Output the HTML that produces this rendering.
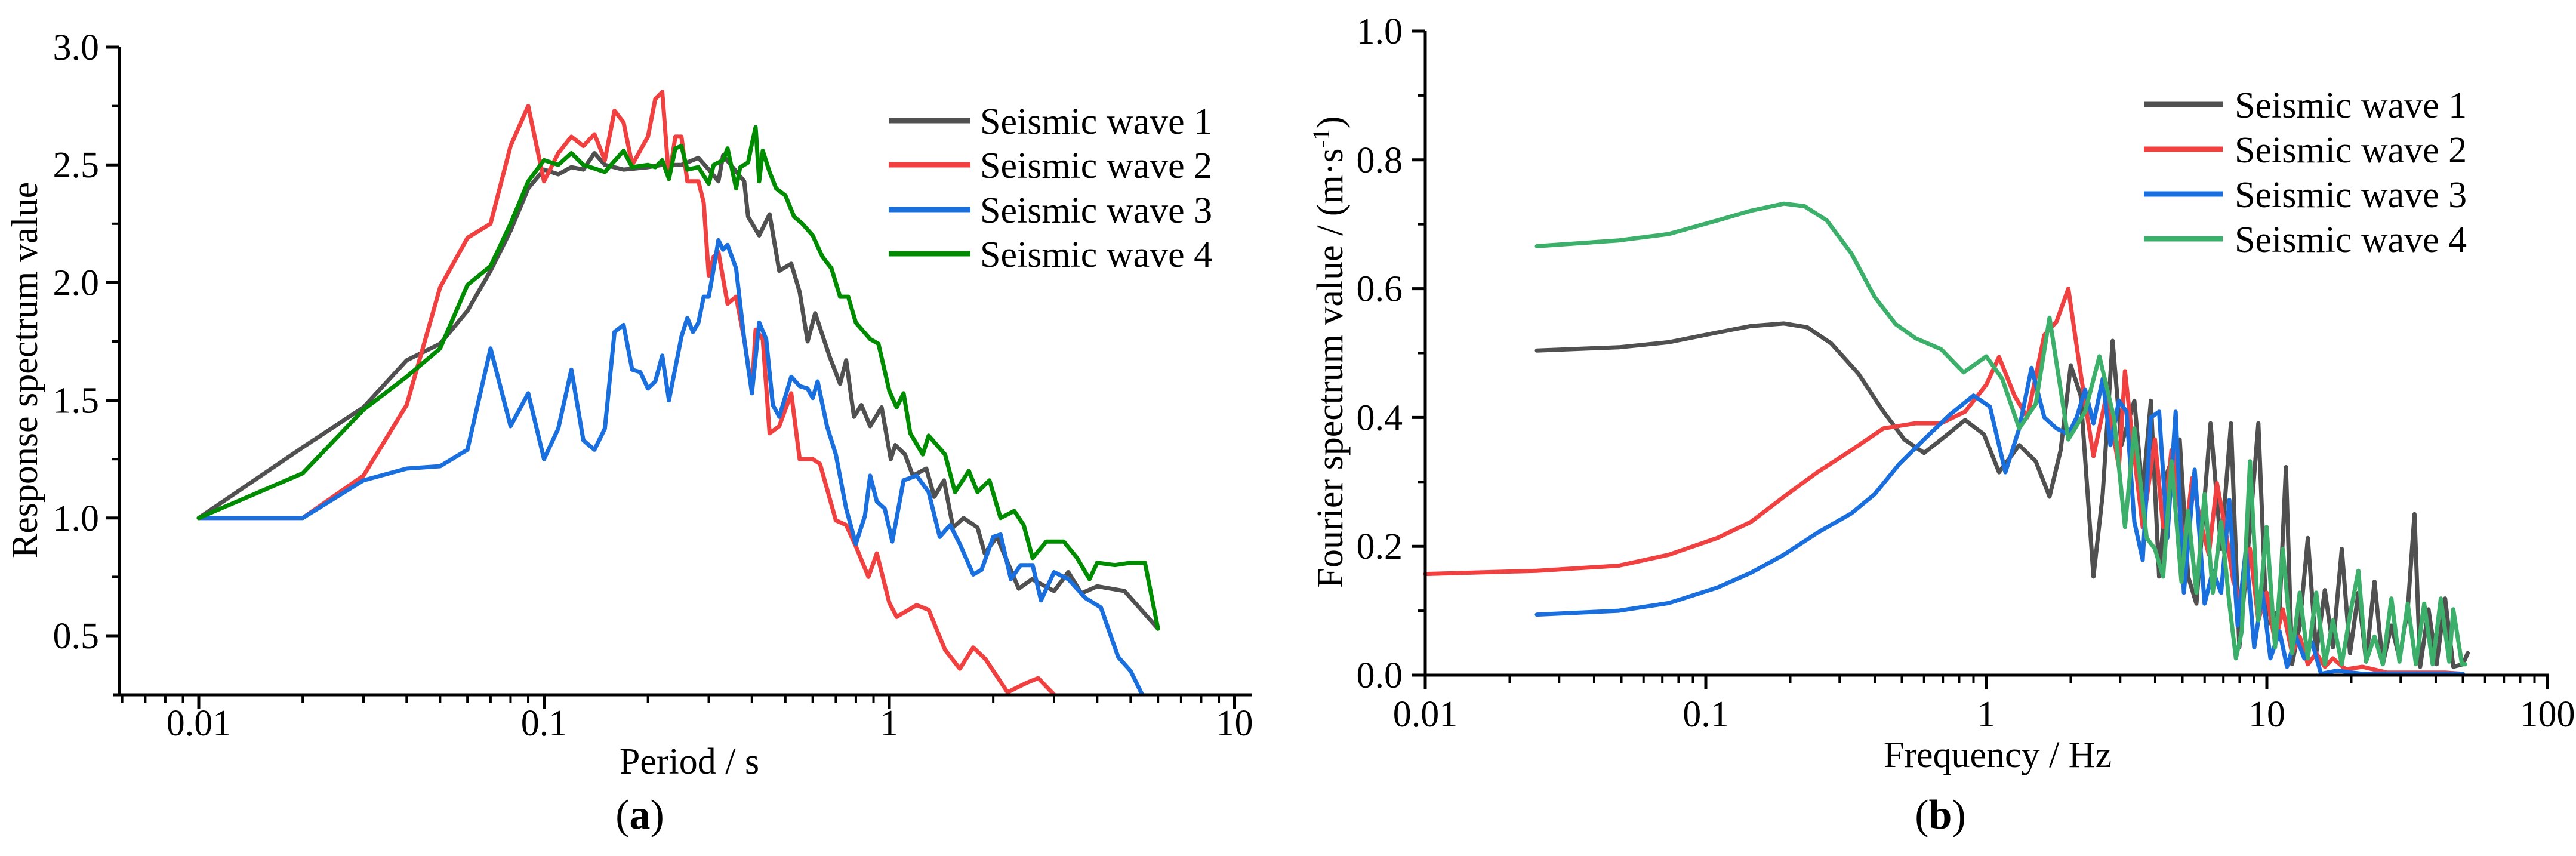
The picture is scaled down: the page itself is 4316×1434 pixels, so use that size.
<!DOCTYPE html>
<html><head><meta charset="utf-8">
<style>
html,body{margin:0;padding:0;background:#fff;}
svg{display:block;}
svg, svg text, svg tspan{font-family:"Liberation Serif",serif !important;fill:#000;}
</style></head>
<body>
<svg id="fig" width="4316" height="1434" viewBox="0 0 4316 1434" xmlns="http://www.w3.org/2000/svg" font-family="Liberation Serif, serif">
<g id="chartA"></g>
<g id="chartB"></g>
</svg>
<script>
// ---------- Chart (a) data: period (s), response spectrum value ----------
const aSeriesNames = ["Seismic wave 1","Seismic wave 2","Seismic wave 3","Seismic wave 4"];
const aColors = ["#505050","#f04040","#1a6fdf","#008c00"];
const aYTicks = [0.5,1.0,1.5,2.0,2.5,3.0];
const aYTickLabels = ["0.5","1.0","1.5","2.0","2.5","3.0"];
const aXTicks = [0.01,0.1,1,10];
const aXTickLabels = ["0.01","0.1","1","10"];
const aW1T = [0.01,0.02,0.03,0.04,0.05,0.06,0.07,0.08,0.09,0.1,0.11,0.12,0.13,0.14,0.15,0.17,0.2,0.22,0.25,0.28,0.3,0.32,0.33,0.38,0.39,0.42,0.45,0.48,0.52,0.55,0.58,0.61,0.67,0.72,0.75,0.79,0.83,0.88,0.95,1.01,1.04,1.11,1.17,1.28,1.35,1.44,1.53,1.64,1.8,1.89,2.05,2.37,2.59,3.0,3.3,3.6,4.0,4.8,6.0];
const aW1V = [1.0,1.30,1.47,1.67,1.74,1.88,2.05,2.22,2.40,2.48,2.46,2.49,2.48,2.55,2.50,2.48,2.49,2.50,2.50,2.53,2.48,2.43,2.54,2.43,2.28,2.20,2.29,2.05,2.08,1.96,1.75,1.87,1.69,1.57,1.67,1.43,1.48,1.39,1.47,1.25,1.31,1.27,1.18,1.21,1.09,1.16,0.96,1.00,0.96,0.85,0.92,0.70,0.74,0.69,0.77,0.68,0.71,0.69,0.53];
const aW2T = [0.01,0.02,0.03,0.04,0.05,0.06,0.07,0.08,0.09,0.1,0.11,0.12,0.13,0.14,0.15,0.16,0.17,0.18,0.2,0.21,0.22,0.23,0.24,0.25,0.26,0.28,0.29,0.30,0.31,0.32,0.34,0.36,0.38,0.40,0.41,0.43,0.45,0.48,0.52,0.55,0.6,0.63,0.7,0.75,0.8,0.87,0.92,1.0,1.05,1.2,1.3,1.45,1.6,1.75,1.9,2.2,2.5,2.7,3.0];
const aW2V = [1.0,1.0,1.18,1.48,1.98,2.19,2.25,2.58,2.75,2.43,2.55,2.62,2.58,2.63,2.52,2.73,2.68,2.50,2.62,2.78,2.81,2.44,2.62,2.62,2.43,2.43,2.34,2.03,2.11,2.13,1.91,1.94,1.76,1.54,1.80,1.76,1.36,1.39,1.53,1.25,1.25,1.23,0.99,0.97,0.88,0.75,0.85,0.64,0.58,0.63,0.61,0.44,0.36,0.45,0.40,0.26,0.30,0.32,0.25];
const aW3T = [0.01,0.02,0.03,0.04,0.05,0.06,0.07,0.08,0.09,0.1,0.11,0.12,0.13,0.14,0.15,0.16,0.17,0.18,0.19,0.2,0.21,0.22,0.23,0.25,0.26,0.27,0.28,0.29,0.30,0.31,0.32,0.33,0.34,0.36,0.38,0.40,0.42,0.44,0.46,0.48,0.52,0.55,0.58,0.6,0.62,0.66,0.7,0.75,0.8,0.85,0.88,0.92,0.97,1.02,1.1,1.2,1.3,1.4,1.5,1.6,1.75,1.85,2.0,2.1,2.25,2.4,2.6,2.75,3.0,3.3,3.7,4.1,4.6,5.0,5.4];
const aW3V = [1.0,1.0,1.16,1.21,1.22,1.29,1.72,1.39,1.53,1.25,1.38,1.63,1.33,1.29,1.38,1.79,1.82,1.63,1.62,1.55,1.58,1.69,1.50,1.77,1.85,1.79,1.83,1.94,1.94,2.06,2.18,2.14,2.16,2.06,1.76,1.53,1.83,1.76,1.48,1.43,1.60,1.56,1.55,1.51,1.58,1.39,1.27,1.04,0.89,1.01,1.18,1.07,1.04,0.90,1.16,1.18,1.11,0.92,0.97,0.89,0.76,0.78,0.92,0.93,0.74,0.80,0.80,0.65,0.77,0.74,0.66,0.62,0.41,0.35,0.25];
const aW4T = [0.01,0.02,0.03,0.04,0.05,0.06,0.07,0.08,0.09,0.1,0.11,0.12,0.13,0.15,0.17,0.18,0.2,0.21,0.22,0.23,0.24,0.25,0.26,0.28,0.30,0.31,0.33,0.34,0.36,0.37,0.39,0.40,0.41,0.42,0.43,0.45,0.47,0.5,0.53,0.56,0.6,0.64,0.68,0.72,0.76,0.8,0.88,0.93,1.0,1.05,1.1,1.15,1.25,1.3,1.45,1.55,1.7,1.8,1.95,2.1,2.3,2.45,2.6,2.85,3.2,3.5,3.8,4.0,4.5,5.0,5.5,6.0];
const aW4V = [1.0,1.19,1.46,1.60,1.72,1.99,2.07,2.25,2.43,2.52,2.50,2.55,2.50,2.47,2.56,2.49,2.50,2.49,2.52,2.44,2.57,2.58,2.48,2.49,2.42,2.50,2.52,2.57,2.40,2.49,2.51,2.59,2.66,2.43,2.56,2.47,2.40,2.37,2.28,2.25,2.20,2.11,2.06,1.94,1.94,1.83,1.76,1.74,1.54,1.47,1.53,1.36,1.27,1.35,1.27,1.11,1.20,1.11,1.16,1.00,1.03,0.97,0.83,0.90,0.90,0.83,0.74,0.81,0.80,0.81,0.81,0.53];

// ---------- Chart (b) data: frequency (Hz), Fourier spectrum value ----------
const bColors = ["#505050","#f04040","#1a6fdf","#3cb06a"];
const bYTicks = [0,0.2,0.4,0.6,0.8,1.0];
const bYTickLabels = ["0.0","0.2","0.4","0.6","0.8","1.0"];
const bXTicks = [0.01,0.1,1,10,100];
const bXTickLabels = ["0.01","0.1","1","10","100"];
const bW1F = [0.025,0.049,0.074,0.11,0.145,0.19,0.23,0.28,0.35,0.43,0.51,0.60,0.71,0.84,0.98,1.11,1.31,1.50,1.68,1.84,2.0,2.17,2.41,2.6,2.82,3.03,3.37,3.61,3.86,4.13,4.42,4.89,5.24,5.61,6.08,6.30,6.87,7.45,7.98,8.71,9.33,9.98,11.1,11.7,12.3,13.1,14.0,15.0,16.1,17.2,18.5,19.8,21.2,22.6,24.2,25.9,27.8,29.7,31.8,33.6,35.2,37.7,40.3,43.2,46.2,50,52];
const bW1V = [0.504,0.509,0.517,0.532,0.542,0.546,0.540,0.515,0.468,0.409,0.366,0.345,0.370,0.396,0.374,0.315,0.357,0.332,0.277,0.349,0.481,0.434,0.153,0.281,0.519,0.357,0.426,0.281,0.426,0.153,0.315,0.366,0.153,0.111,0.306,0.391,0.196,0.391,0.043,0.230,0.391,0.077,0.102,0.323,0.017,0.077,0.213,0.034,0.132,0.043,0.196,0.034,0.128,0.021,0.145,0.017,0.077,0.026,0.102,0.250,0.013,0.102,0.017,0.119,0.013,0.017,0.034];
const bW2F = [0.01,0.025,0.049,0.074,0.11,0.145,0.19,0.25,0.33,0.43,0.56,0.69,0.84,1.0,1.11,1.26,1.40,1.61,1.78,1.96,2.17,2.41,2.68,2.97,3.12,3.37,3.61,3.99,4.27,4.57,4.65,5.06,5.42,5.80,6.21,6.64,7.1,7.6,8.14,8.71,9.33,9.98,10.7,11.4,12.3,13.1,14.0,15.0,16.1,17.2,19.1,21.9,26.8,32.9,43.2,50];
const bW2V = [0.157,0.162,0.170,0.187,0.213,0.238,0.277,0.315,0.349,0.383,0.391,0.391,0.409,0.451,0.494,0.434,0.400,0.528,0.549,0.600,0.468,0.340,0.434,0.323,0.472,0.340,0.230,0.366,0.230,0.349,0.349,0.196,0.306,0.238,0.187,0.298,0.230,0.145,0.111,0.196,0.085,0.128,0.051,0.102,0.034,0.060,0.017,0.034,0.013,0.026,0.009,0.013,0.004,0.004,0.004,0.002];
const bW3F = [0.025,0.049,0.074,0.11,0.145,0.19,0.25,0.33,0.40,0.49,0.60,0.74,0.90,1.03,1.17,1.31,1.45,1.61,1.78,1.96,2.1,2.25,2.41,2.6,2.77,2.97,3.16,3.37,3.61,3.86,4.13,4.42,4.73,5.06,5.53,6.0,6.42,6.87,7.35,7.87,8.42,9.02,9.65,10.3,11.1,11.8,12.7,13.6,14.5,15.6,17.8,21.9,31.8,43.2,50];
const bW3V = [0.094,0.100,0.112,0.136,0.159,0.187,0.221,0.251,0.281,0.328,0.366,0.404,0.434,0.417,0.315,0.383,0.477,0.400,0.383,0.374,0.400,0.443,0.391,0.460,0.357,0.426,0.409,0.238,0.179,0.400,0.409,0.213,0.409,0.128,0.319,0.111,0.162,0.128,0.272,0.077,0.196,0.043,0.128,0.026,0.068,0.013,0.060,0.026,0.051,0.002,0.007,0.002,0.002,0.002,0.002];
const bW4F = [0.025,0.049,0.074,0.11,0.145,0.19,0.225,0.27,0.33,0.40,0.475,0.56,0.69,0.83,1.0,1.14,1.31,1.50,1.68,1.96,2.25,2.53,2.85,3.12,3.37,3.73,3.99,4.27,4.57,4.96,5.24,5.61,6.0,6.42,6.87,7.35,7.76,8.14,8.71,9.33,9.98,10.7,11.4,12.3,13.1,14.0,15.0,16.1,17.2,18.5,19.8,21.2,22.6,24.2,25.9,27.8,29.7,31.8,34.0,36.4,39.0,41.7,44.7,46.2,49.6,51];
const bW4V = [0.666,0.675,0.685,0.706,0.721,0.732,0.728,0.706,0.655,0.587,0.545,0.523,0.506,0.470,0.495,0.460,0.383,0.421,0.555,0.366,0.409,0.495,0.400,0.230,0.383,0.213,0.196,0.153,0.332,0.145,0.255,0.128,0.281,0.128,0.238,0.111,0.026,0.068,0.332,0.085,0.230,0.043,0.196,0.034,0.128,0.026,0.128,0.017,0.085,0.017,0.094,0.162,0.021,0.060,0.017,0.119,0.021,0.111,0.017,0.111,0.017,0.119,0.021,0.102,0.017,0.017];

const NS = "http://www.w3.org/2000/svg";
const FF = "Liberation Serif, serif";
function mk(parent, tag, attrs, txt){
  const e = document.createElementNS(NS, tag);
  for (const k in attrs) e.setAttribute(k, attrs[k]);
  if (tag === "text") e.setAttribute("font-family", FF);
  if (txt !== undefined) e.textContent = txt;
  parent.appendChild(e);
  return e;
}

// ---------- Chart A ----------
const gA = document.getElementById("chartA");
const aX = t => 333 + 578.5*(Math.log10(t)+2);
const aY = v => 79 + (3 - v)*394.4;
const aLeft = 200, aBottom = 1164, aRight = 2098;
const aTs = [aW1T,aW2T,aW3T,aW4T], aVs = [aW1V,aW2V,aW3V,aW4V];
for (let s=0;s<4;s++){
  const d = aTs[s].map((t,i)=>(i?"L":"M")+aX(t).toFixed(1)+","+aY(aVs[s][i]).toFixed(1)).join(" ");
  const p = mk(gA,"path",{d:d,fill:"none",stroke:aColors[s],"stroke-width":7,"stroke-linejoin":"round","stroke-linecap":"round"});
  
  
}
mk(gA,"rect",{x:aLeft,y:aBottom+2,width:aRight-aLeft,height:60,fill:"#fff"});
const axA = mk(gA,"path",{d:`M${aLeft},${aY(3.0)} V${aBottom} M190,${aBottom} H${aRight}`,stroke:"#000","stroke-width":5,fill:"none"});


aYTicks.forEach((v,i)=>{
  mk(gA,"line",{x1:aLeft-23,x2:aLeft,y1:aY(v),y2:aY(v),stroke:"#000","stroke-width":5});
  const t = mk(gA,"text",{x:166,y:aY(v)+21,"text-anchor":"end","font-size":62},aYTickLabels[i]);
  
  
  if (v < 3) mk(gA,"line",{x1:aLeft-12,x2:aLeft,y1:aY(v+0.25),y2:aY(v+0.25),stroke:"#000","stroke-width":4});
});
aXTicks.forEach((t,i)=>{
  mk(gA,"line",{x1:aX(t),x2:aX(t),y1:aBottom,y2:aBottom+24,stroke:"#000","stroke-width":5});
  const l = mk(gA,"text",{x:aX(t),y:1232,"text-anchor":"middle","font-size":62},aXTickLabels[i]);
  
  
});
[0.001,0.01,0.1,1,10].forEach(dec=>{for(let m=2;m<=9;m++){const t=dec*m;const x=aX(t);if(x>=aLeft&&x<=aRight)mk(gA,"line",{x1:x,x2:x,y1:aBottom,y2:aBottom+13,stroke:"#000","stroke-width":4});}});
const aXT = mk(gA,"text",{x:1155,y:1296,"text-anchor":"middle","font-size":62},"Period / s");


const aYT = mk(gA,"text",{x:0,y:0,"text-anchor":"middle","font-size":62,transform:"translate(62,620) rotate(-90)"},"Response spectrum value");


const aLab = mk(gA,"text",{x:1072,y:1388,"text-anchor":"middle","font-size":70});


aLab.innerHTML = '(<tspan font-weight="bold">a</tspan>)';
const legAy = [202,276,351,425];
aSeriesNames.forEach((n,i)=>{
  const g = mk(gA,"g",{});
  
  
  mk(g,"line",{x1:1489,x2:1626,y1:legAy[i],y2:legAy[i],stroke:aColors[i],"stroke-width":9});
  mk(g,"text",{x:1642,y:legAy[i]+22,"font-size":62},n);
});

// ---------- Chart B ----------
const gB = document.getElementById("chartB");
const bX = f => 2388 + 470*(Math.log10(f)+2);
const bY = v => 1131 - 1079*v;
const bLeft = 2388, bBottom = 1131, bRight = 4270;
const bFs = [bW1F,bW2F,bW3F,bW4F], bVs = [bW1V,bW2V,bW3V,bW4V];
for (let s=0;s<4;s++){
  const d = bFs[s].map((f,i)=>(i?"L":"M")+bX(f).toFixed(1)+","+bY(bVs[s][i]).toFixed(1)).join(" ");
  const p = mk(gB,"path",{d:d,fill:"none",stroke:bColors[s],"stroke-width":7,"stroke-linejoin":"round","stroke-linecap":"round"});
  
  
}
const axB = mk(gB,"path",{d:`M${bLeft},${bY(1)} V${bBottom+20} M${bLeft-22},${bBottom} H${bRight}`,stroke:"#000","stroke-width":5,fill:"none"});


bYTicks.forEach((v,i)=>{
  mk(gB,"line",{x1:bLeft-23,x2:bLeft,y1:bY(v),y2:bY(v),stroke:"#000","stroke-width":5});
  const t = mk(gB,"text",{x:2350,y:bY(v)+21,"text-anchor":"end","font-size":62},bYTickLabels[i]);
  
  
  if (v < 1) mk(gB,"line",{x1:bLeft-12,x2:bLeft,y1:bY(v+0.1),y2:bY(v+0.1),stroke:"#000","stroke-width":4});
});
bXTicks.forEach((f,i)=>{
  mk(gB,"line",{x1:bX(f),x2:bX(f),y1:bBottom,y2:bBottom+24,stroke:"#000","stroke-width":5});
  const l = mk(gB,"text",{x:bX(f),y:1217,"text-anchor":"middle","font-size":62},bXTickLabels[i]);
  
  
});
[0.01,0.1,1,10].forEach(dec=>{for(let m=2;m<=9;m++){const x=bX(dec*m);mk(gB,"line",{x1:x,x2:x,y1:bBottom,y2:bBottom+13,stroke:"#000","stroke-width":4});}});
const bXT = mk(gB,"text",{x:3347,y:1285,"text-anchor":"middle","font-size":62},"Frequency / Hz");


const bYT = mk(gB,"text",{x:0,y:0,"text-anchor":"middle","font-size":62,transform:"translate(2249,590) rotate(-90)"});


bYT.innerHTML = 'Fourier spectrum value / (m·s<tspan dy="-22" font-size="40">-1</tspan><tspan dy="22">)</tspan>';
const bLab = mk(gB,"text",{x:3251,y:1388,"text-anchor":"middle","font-size":70});


bLab.innerHTML = '(<tspan font-weight="bold">b</tspan>)';
const legBy = [175,250,325,400];
aSeriesNames.forEach((n,i)=>{
  const g = mk(gB,"g",{});
  
  
  mk(g,"line",{x1:3592,x2:3724,y1:legBy[i],y2:legBy[i],stroke:bColors[i],"stroke-width":9});
  mk(g,"text",{x:3744,y:legBy[i]+22,"font-size":62},n);
});
</script>
</body></html>
